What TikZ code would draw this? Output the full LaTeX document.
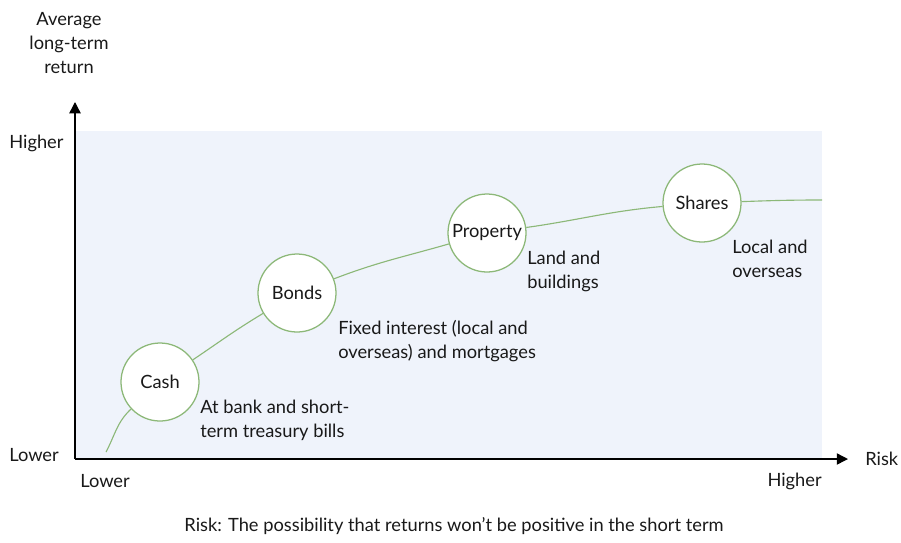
\documentclass[tikz,border=0pt]{standalone}
\usepackage{fontspec}
\setmainfont{Lato}
\usepackage{tikz}
\usetikzlibrary{arrows.meta}
\usetikzlibrary{positioning}
\tikzset{asset/.style = {draw=mgreen, fill=white, circle, line width=0.9pt,
                         minimum size=78*0.025cm, inner sep=0}}
\tikzset{trend/.style = {draw=mgreen, line width=0.8pt}}
\tikzset{axis/.style = {line width=1pt, -{Triangle[length=8pt, width=8pt]}}}
\tikzset{note/.style = {align=left, anchor=north west, inner sep=0}}
\definecolor{mgreen}{rgb}{0.55, 0.72, 0.47}
\definecolor{mpale}{rgb}{0.937, 0.953, 0.984}
\definecolor{mtext}{rgb}{0.1, 0.1, 0.1}

\begin{document}
\begin{tikzpicture}[x=0.025cm, y=-0.025cm, font=\fontsize{13}{17}\selectfont, text=mtext]
    \useasboundingbox (0, 0) rectangle (901, 542);

    \fill [mpale] (75, 131) rectangle (822, 459);

    \coordinate (origin) at (75, 459);
    \coordinate (ytip) at (75, 102);
    \coordinate (xtip) at (848, 459);
    \draw [axis] (origin) -- (ytip);
    \draw [axis] (origin) -- (xtip);

    \node (ytitle) [align=center] at (69, 43) {Average\\long-term\\return};
    \node (yhigh) [anchor=west, inner sep=0] at (9, 143) {Higher};
    \node (ylow) [anchor=west, inner sep=0] at (9, 455) {Lower};
    \node (xlow) [anchor=west, inner sep=0] at (80, 481) {Lower};
    \node (xhigh) [anchor=east, inner sep=0] at (822, 481) {Higher};
    \node (xtitle) [anchor=west, inner sep=0] at (865, 459) {Risk};
    \node (caption) at (454, 526) {Risk: The possibility that returns won’t be positive in the short term};

    \coordinate (start) at (106, 452);
    \coordinate (end) at (822, 200);

    \node (cash) [asset] at (160, 382) {Cash};
    \node (bonds) [asset] at (297, 293) {Bonds};
    \node (property) [asset] at (487, 233) {Property};
    \node (shares) [asset] at (702, 203) {Shares};

    \draw [trend] (start) to [out=62, in=223] (cash);
    \draw [trend] (cash) to [out=34, in=211] (bonds);
    \draw [trend] (bonds) to [out=21, in=196] (property);
    \draw [trend] (property) to [out=8, in=185] (shares);
    \draw [trend] (shares) to [out=2, in=180] (end);

    \node (cashnote) [note] at (200, 400) {At bank and short-\\term treasury bills};
    \node (bondsnote) [note] at (338, 320) {Fixed interest (local and\\overseas) and mortgages};
    \node (propertynote) [note] at (527, 251) {Land and\\buildings};
    \node (sharesnote) [note] at (732, 240) {Local and\\overseas};
\end{tikzpicture}
\end{document}
